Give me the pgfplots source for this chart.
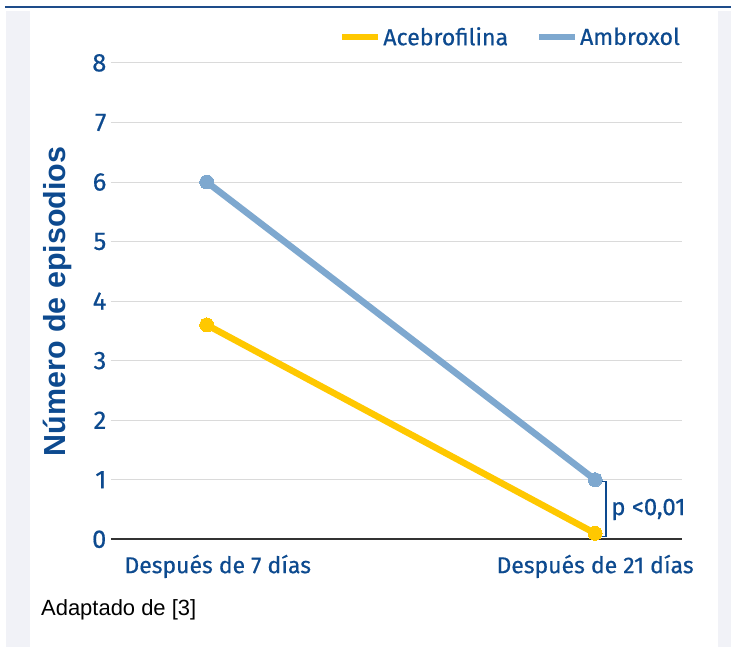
\documentclass[border=0pt]{standalone}
\usepackage{pgfplots}
\pgfplotsset{compat=1.18}
\usepackage{fontspec}
\setmainfont{Fira Sans}[FakeBold=0.5]
\newfontfamily\arialfont{Liberation Sans}
\definecolor{txtblue}{HTML}{0D4A8F}
\definecolor{ayellow}{HTML}{FFC800}
\definecolor{ablue}{HTML}{7EA8CF}
\definecolor{panel}{HTML}{F1F2F7}
\definecolor{topline}{HTML}{1E4C8A}
\definecolor{gridc}{HTML}{DADADA}
\begin{document}
\begin{tikzpicture}[x=1pt,y=1pt]
\fill[white] (0,0) rectangle (732,648);
\fill[panel] (6,0) rectangle (30,637);
\fill[panel] (719,0) rectangle (732,637);
\draw[topline, line width=2pt] (5,641) -- (732,641);
\begin{axis}[
  at={(111pt,108pt)}, anchor=south west,
  scale only axis, width=572pt, height=477pt,
  xmin=-0.247, xmax=1.224, ymin=0, ymax=8,
  clip=false,
  axis x line=bottom, axis y line=left,
  axis line style={-},
  x axis line style={draw=black!80, line width=2pt},
  y axis line style={draw=none},
  major tick length=0pt,
  xtick={0,1}, xticklabels={\hspace*{22pt}Después de 7 días, Después de 21 días},
  ytick={0,1,...,8},
  ymajorgrids, grid style={gridc, line width=1pt},
  /pgf/number format/assume math mode=true,
  xticklabel style={text=txtblue, font=\fontsize{23}{27}\selectfont, yshift=-12pt},
  yticklabel style={text=txtblue, font=\fontsize{25.5}{29}\selectfont, xshift=-1pt},
  legend columns=2,
  legend style={at={(1.0,1.0545)}, anchor=east, draw=none, fill=none,
    text=txtblue, font=\fontsize{23.2}{27}\selectfont, inner sep=0pt,
    /tikz/every even column/.append style={column sep=26pt}},
  legend image code/.code={\draw[#1, line width=6pt] (0pt,0pt) -- (36pt,0pt);},
]
\draw[txtblue, line width=1.2pt] ([xshift=4pt]axis cs:1,0.97) -- ([xshift=11pt]axis cs:1,0.97) -- ([xshift=11pt]axis cs:1,0.05) -- ([xshift=4pt]axis cs:1,0.05);
\node[anchor=west, text=txtblue, font=\fontsize{24}{28}\selectfont, inner sep=0pt] at ([xshift=16pt]axis cs:1,0.5) {p <0,01};
\addplot[ayellow, line width=6.5pt, mark=*, mark size=7pt, mark options={line width=0pt}] coordinates {(0,3.6) (1,0.1)};
\addlegendentry{Acebrofilina}
\addplot[ablue, line width=6.5pt, mark=*, mark size=7pt, mark options={line width=0pt}] coordinates {(0,6) (1,1)};
\addlegendentry{Ambroxol}
\end{axis}
\node[rotate=90, text=txtblue, font=\arialfont\bfseries\fontsize{30.5}{34}\selectfont, inner sep=0pt] at (58,346) {Número de episodios};
\node[anchor=west, font=\arialfont\fontsize{22}{26}\selectfont, inner sep=0pt] at (41,37) {Adaptado de [3]};
\useasboundingbox (0,0) rectangle (732,648);
\end{tikzpicture}
\end{document}
